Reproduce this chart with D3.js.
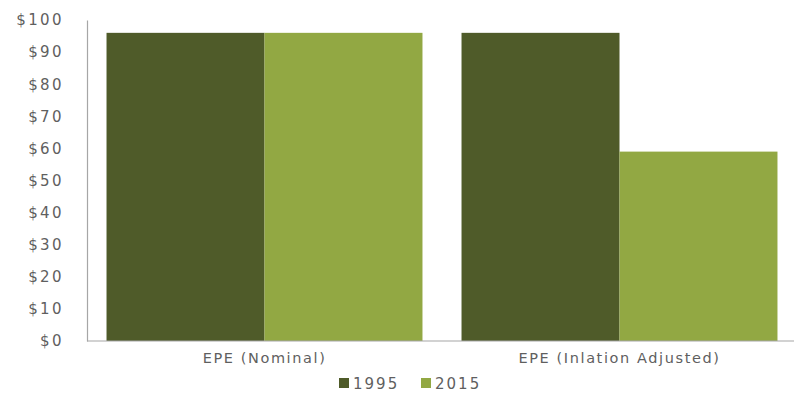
<!DOCTYPE html>
<html>
<head>
<meta charset="utf-8">
<script src="https://cdn.jsdelivr.net/npm/d3@7"></script>
<style>
  body { margin: 0; background: #fff; }
  svg text { font-family: "DejaVu Sans", sans-serif; fill: #595959; }
</style>
</head>
<body>
<svg id="chart" width="794" height="394"></svg>
<script>
// Expenditure per enrollee, 1995 vs 2015
const categories = ["EPE (Nominal)", "EPE (Inlation Adjusted)"];
const seriesNames = ["1995", "2015"];
const values1995 = [96, 96];
const values2015 = [96, 59];
const yTicks = [0, 10, 20, 30, 40, 50, 60, 70, 80, 90, 100];
const colors = ["#4f5b29", "#92a843"];

const svg = d3.select("#chart");
const margin = { left: 87, right: 797, top: 20, bottom: 341 };

const x = d3.scaleBand().domain(categories)
  .range([margin.left, margin.right])
  .paddingInner(0.11).paddingOuter(0.055);
const xs = d3.scaleBand().domain(seriesNames).range([0, x.bandwidth()]);
const y = d3.scaleLinear().domain([0, 100]).range([margin.bottom, margin.top]);

const data = categories.map((c, i) => ({
  cat: c,
  vals: [{ s: "1995", v: values1995[i] }, { s: "2015", v: values2015[i] }]
}));

// bars
svg.append("g").selectAll("g").data(data).join("g")
  .attr("transform", d => `translate(${x(d.cat)},0)`)
  .selectAll("rect").data(d => d.vals).join("rect")
  .attr("x", d => xs(d.s))
  .attr("y", d => y(d.v))
  .attr("width", xs.bandwidth())
  .attr("height", d => y(0) - y(d.v))
  .attr("fill", (d, i) => colors[i]);

// y axis
const yAxis = svg.append("g")
  .attr("transform", `translate(${margin.left},0)`)
  .call(d3.axisLeft(y).tickValues(yTicks).tickFormat(d => "$" + d).tickSize(0).tickPadding(23));
yAxis.select(".domain").attr("stroke", "#a6a6a6").attr("stroke-width", 1.2);
yAxis.selectAll("text").attr("font-size", 15).attr("letter-spacing", 2.4).style("fill", "#5f5f5f");

// x axis
const xAxis = svg.append("g")
  .attr("transform", `translate(0,${margin.bottom})`)
  .call(d3.axisBottom(x).tickSize(0).tickPadding(12));
xAxis.select(".domain").attr("stroke", "#a6a6a6").attr("stroke-width", 1.2)
  .attr("d", `M${margin.left},0H${margin.right + 3}`);
xAxis.selectAll("text").attr("font-size", 14.5).attr("letter-spacing", 1.6).style("fill", "#5f5f5f");

// legend
const legend = svg.append("g").attr("transform", "translate(339,389)");
const items = [{ n: "1995", c: colors[0], dx: 0 }, { n: "2015", c: colors[1], dx: 82 }];
items.forEach(it => {
  legend.append("rect").attr("x", it.dx).attr("y", -11).attr("width", 10).attr("height", 10).attr("fill", it.c);
  legend.append("text").attr("x", it.dx + 14).attr("y", 0).attr("font-size", 15)
    .attr("letter-spacing", 2).style("fill", "#5f5f5f").text(it.n);
});
</script>
</body>
</html>
